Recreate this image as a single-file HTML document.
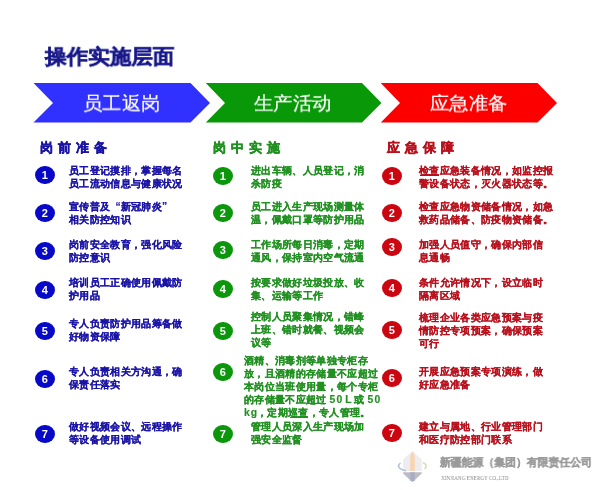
<!DOCTYPE html>
<html><head><meta charset="utf-8">
<style>
html,body{margin:0;padding:0;background:#fff;}
body{-webkit-font-smoothing:antialiased;}
.a,.c{will-change:transform;}
body{width:600px;height:490px;position:relative;overflow:hidden;font-family:"Liberation Sans",sans-serif;}
.a{position:absolute;white-space:nowrap;}
.title{left:44.7px;top:43.4px;font-size:22px;transform:scale(0.98,0.935);transform-origin:0 0;font-weight:900;color:#18188a;line-height:30px;-webkit-text-stroke:0.5px #18188a;}
.lbl{font-size:19px;transform:scale(1.02,0.975);transform-origin:0 0;color:#fff;line-height:24px;-webkit-text-stroke:0.2px #fff;}
.hd{font-size:13px;font-weight:bold;letter-spacing:5.1px;line-height:18px;-webkit-text-stroke:0.45px currentColor;}
.t{font-size:10px;font-weight:bold;line-height:13px;-webkit-text-stroke:0.15px currentColor;transform:scale(1.033);transform-origin:0 0;}
.c{position:absolute;width:19.7px;height:18.4px;border-radius:50%;color:#fff;font:bold 11px/18.4px "Liberation Sans",sans-serif;text-align:center;}
.ql{display:inline-block;width:1em;text-align:right;}.qr{display:inline-block;width:1em;text-align:left;}
.b{color:#1a14a6;} .g{color:#209020;} .r{color:#b8101c;}
.cb{background:#0808c8;} .cg{background:#0c960c;} .cr{background:#cc0610;}
</style></head><body>
<svg class="a" style="left:0;top:0" width="600" height="490">
<polygon points="33.5,83 190.5,83 210,103 190.5,122.5 33.5,122.5 53,103" fill="#3030ff"/>
<polygon points="205.8,83 362,83 381.5,103 362,122.5 205.8,122.5 225,103" fill="#089808"/>
<polygon points="380.8,83 537.5,83 557,103 537.5,122.5 380.8,122.5 400,103" fill="#fc0000"/>
</svg>
<div class="a title">操作实施层面</div>
<div class="a lbl" style="left:82.8px;top:92px">员工返岗</div>
<div class="a lbl" style="left:254.3px;top:92px">生产活动</div>
<div class="a lbl" style="left:429.8px;top:92px">应急准备</div>

<div class="a hd b" style="left:40px;top:138.5px">岗前准备</div>
<div class="a hd g" style="left:213px;top:138.5px">岗中实施</div>
<div class="a hd r" style="left:387px;top:138.5px">应急保障</div>

<div class="c cb" style="left:35.2px;top:165.5px">1</div>
<div class="a t b" style="left:69.2px;top:164.0px">员工登记摸排，掌握每名</div>
<div class="a t b" style="left:69.2px;top:177.0px">员工流动信息与健康状况</div>
<div class="c cb" style="left:35.2px;top:203.6px">2</div>
<div class="a t b" style="left:69.2px;top:200.4px">宣传普及<span class="ql">“</span>新冠肺炎<span class="qr">”</span></div>
<div class="a t b" style="left:69.2px;top:213.4px">相关防控知识</div>
<div class="c cb" style="left:35.2px;top:241.8px">3</div>
<div class="a t b" style="left:69.2px;top:238.3px">岗前安全教育，强化风险</div>
<div class="a t b" style="left:69.2px;top:251.3px">防控意识</div>
<div class="c cb" style="left:35.2px;top:280.6px">4</div>
<div class="a t b" style="left:69.2px;top:276.0px">培训员工正确使用佩戴防</div>
<div class="a t b" style="left:69.2px;top:289.0px">护用品</div>
<div class="c cb" style="left:35.2px;top:321.7px">5</div>
<div class="a t b" style="left:69.2px;top:317.2px">专人负责防护用品筹备做</div>
<div class="a t b" style="left:69.2px;top:330.2px">好物资保障</div>
<div class="c cb" style="left:35.2px;top:370.0px">6</div>
<div class="a t b" style="left:69.2px;top:364.7px">专人负责相关方沟通，确</div>
<div class="a t b" style="left:69.2px;top:377.7px">保责任落实</div>
<div class="c cb" style="left:35.2px;top:424.8px">7</div>
<div class="a t b" style="left:69.2px;top:419.7px">做好视频会议、远程操作</div>
<div class="a t b" style="left:69.2px;top:432.7px">等设备使用调试</div>
<div class="c cg" style="left:212.5px;top:166.8px">1</div>
<div class="a t g" style="left:251.2px;top:163.5px">进出车辆、人员登记，消</div>
<div class="a t g" style="left:251.2px;top:176.5px">杀防疫</div>
<div class="c cg" style="left:212.5px;top:203.6px">2</div>
<div class="a t g" style="left:251.2px;top:200.2px">员工进入生产现场测量体</div>
<div class="a t g" style="left:251.2px;top:213.2px">温，佩戴口罩等防护用品</div>
<div class="c cg" style="left:212.5px;top:241.4px">3</div>
<div class="a t g" style="left:251.2px;top:238.3px">工作场所每日消毒，定期</div>
<div class="a t g" style="left:251.2px;top:251.3px">通风，保持室内空气流通</div>
<div class="c cg" style="left:212.5px;top:280.4px">4</div>
<div class="a t g" style="left:251.2px;top:276.0px">按要求做好垃圾投放、收</div>
<div class="a t g" style="left:251.2px;top:289.0px">集、运输等工作</div>
<div class="c cg" style="left:212.5px;top:321.8px">5</div>
<div class="a t g" style="left:251.2px;top:310.4px">控制人员聚集情况，错峰</div>
<div class="a t g" style="left:251.2px;top:323.4px">上班、错时就餐、视频会</div>
<div class="a t g" style="left:251.2px;top:336.4px">议等</div>
<div class="c cg" style="left:212.5px;top:362.6px">6</div>
<div class="a t g" style="left:244px;top:353.7px">酒精、消毒剂等单独专柜存</div>
<div class="a t g" style="left:244px;top:367.0px">放，且酒精的存储量不应超过</div>
<div class="a t g" style="left:244px;top:380.1px">本岗位当班使用量，每个专柜</div>
<div class="a t g" style="left:244px;top:393.2px">的存储量不应超过 <span style="letter-spacing:1.3px">5</span>0 L 或 <span style="letter-spacing:1.3px">5</span>0</div>
<div class="a t g" style="left:244px;top:406.4px"><span style="letter-spacing:1px">k</span>g，定期巡查，专人管理。</div>
<div class="c cg" style="left:212.5px;top:424.5px">7</div>
<div class="a t g" style="left:251.2px;top:420.1px">管理人员深入生产现场加</div>
<div class="a t g" style="left:251.2px;top:433.1px">强安全监督</div>
<div class="c cr" style="left:382.3px;top:166.8px">1</div>
<div class="a t r" style="left:419.3px;top:163.5px">检查应急装备情况，如监控报</div>
<div class="a t r" style="left:419.3px;top:176.5px">警设备状态，灭火器状态等。</div>
<div class="c cr" style="left:382.3px;top:203.6px">2</div>
<div class="a t r" style="left:419.3px;top:200.2px">检查应急物资储备情况，如急</div>
<div class="a t r" style="left:419.3px;top:213.2px">救药品储备、防疫物资储备。</div>
<div class="c cr" style="left:382.3px;top:238.0px">3</div>
<div class="a t r" style="left:419.3px;top:238.3px">加强人员值守，确保内部信</div>
<div class="a t r" style="left:419.3px;top:251.3px">息通畅</div>
<div class="c cr" style="left:382.3px;top:279.0px">4</div>
<div class="a t r" style="left:419.3px;top:275.5px">条件允许情况下，设立临时</div>
<div class="a t r" style="left:419.3px;top:288.5px">隔离区域</div>
<div class="c cr" style="left:382.3px;top:320.6px">5</div>
<div class="a t r" style="left:419.3px;top:310.5px">梳理企业各类应急预案与疫</div>
<div class="a t r" style="left:419.3px;top:323.5px">情防控专项预案，确保预案</div>
<div class="a t r" style="left:419.3px;top:336.5px">可行</div>
<div class="c cr" style="left:382.3px;top:368.6px">6</div>
<div class="a t r" style="left:419.3px;top:364.8px">开展应急预案专项演练，做</div>
<div class="a t r" style="left:419.3px;top:377.8px">好应急准备</div>
<div class="c cr" style="left:382.3px;top:423.8px">7</div>
<div class="a t r" style="left:419.3px;top:419.8px">建立与属地、行业管理部门</div>
<div class="a t r" style="left:419.3px;top:432.8px">和医疗防控部门联系</div>
<!-- logo -->
<svg class="a" style="left:395px;top:448px" width="38" height="38" viewBox="395 448 38 38">
<polygon points="412.4,451 421.7,459.5 421.7,471 403.1,471 403.1,459.5" fill="#ececf1"/>
<polygon points="410.2,456 412.4,451.5 414.8,456 414.8,471 410.2,471" fill="#f8d4b0"/>
<polygon points="403.1,472.3 421.7,472.3 421.7,473.5 412.4,482.3 403.1,473.5" fill="#bcbcc4"/>
<rect x="410.2" y="472.3" width="4.6" height="8.5" fill="#a9afc3"/>
<path d="M400.5,463 Q395.5,467 403,470 L406,470.8" stroke="#aec2d8" stroke-width="1.6" fill="none"/>
<path d="M423,462.5 Q428.5,465.5 424.5,469" stroke="#d2e2b4" stroke-width="1.6" fill="none"/>
</svg>
<div class="a" style="left:439.5px;top:453px;font-size:10.7px;font-weight:bold;color:#9a9a9a;line-height:18px;-webkit-text-stroke:0.35px #9a9a9a;transform:scaleX(0.987);transform-origin:0 0">新疆能源（集团）有限责任公司</div>
<div class="a" style="left:440.5px;top:474px;font-family:'Liberation Serif',serif;font-size:6px;color:#8a8a8a;line-height:8px;transform:scaleX(0.87);transform-origin:0 0">XINJIANG ENERGY CO.,LTD</div>
<div class="a" style="left:419.5px;top:175px;width:19px;height:0.8px;background:#b8101c"></div>
<div class="a" style="left:289.5px;top:416.5px;width:18px;height:0.8px;background:#209020"></div>
<div class="a" style="left:308px;top:403.3px;width:18px;height:0.8px;background:#209020"></div>
</body></html>
